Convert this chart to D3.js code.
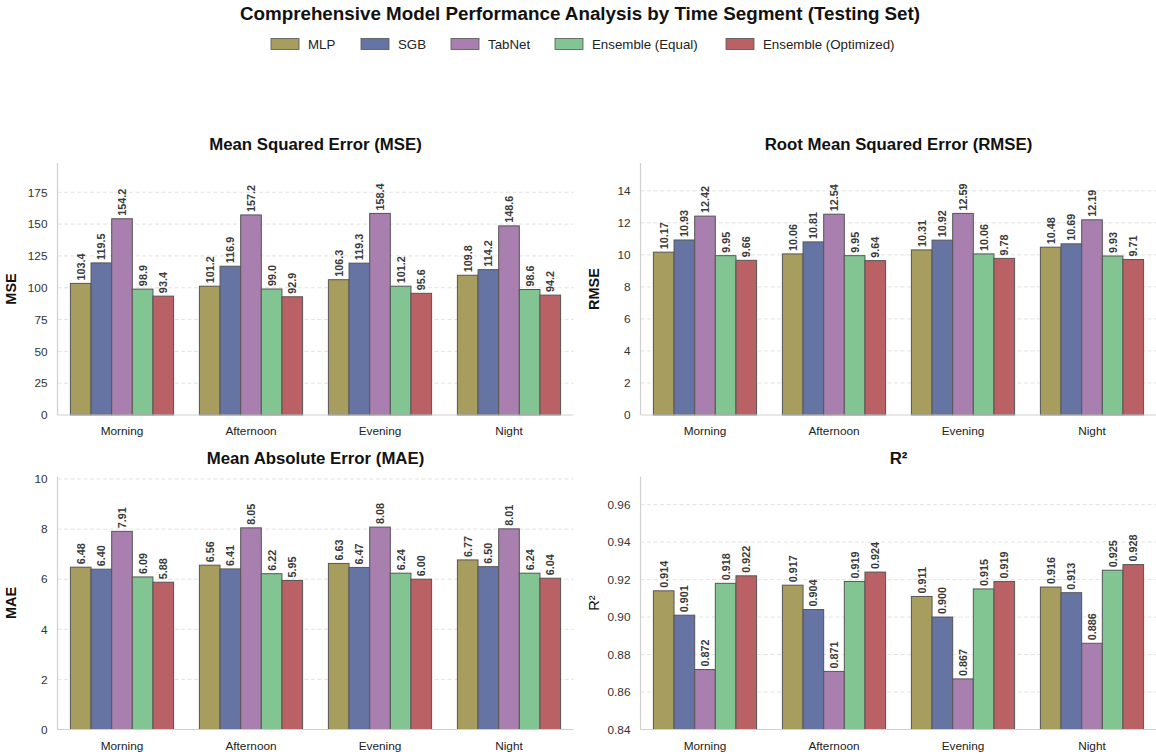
<!DOCTYPE html>
<html>
<head>
<meta charset="utf-8">
<script src="https://cdn.jsdelivr.net/npm/d3@7"></script>
<style>
  html, body { margin: 0; padding: 0; background: #fff; }
  svg { display: block; font-family: "Liberation Sans", Arial, Helvetica, sans-serif; }
</style>
</head>
<body>
<svg id="chart" width="1156" height="755"></svg>
<script>
// Time segments and models
const segments = ["Morning", "Afternoon", "Evening", "Night"];
const models = ["MLP", "SGB", "TabNet", "Ensemble (Equal)", "Ensemble (Optimized)"];
const modelColors = ["#a69d5e", "#6674a3", "#a87fae", "#83c493", "#b96164"];

// Metric values, one array per model (order follows segments)
const mseMLP = [103.4, 101.2, 106.3, 109.8];
const mseSGB = [119.5, 116.9, 119.3, 114.2];
const mseTabNet = [154.2, 157.2, 158.4, 148.6];
const mseEnsEqual = [98.9, 99.0, 101.2, 98.6];
const mseEnsOpt = [93.4, 92.9, 95.6, 94.2];

const rmseMLP = [10.17, 10.06, 10.31, 10.48];
const rmseSGB = [10.93, 10.81, 10.92, 10.69];
const rmseTabNet = [12.42, 12.54, 12.59, 12.19];
const rmseEnsEqual = [9.95, 9.95, 10.06, 9.93];
const rmseEnsOpt = [9.66, 9.64, 9.78, 9.71];

const maeMLP = [6.48, 6.56, 6.63, 6.77];
const maeSGB = [6.40, 6.41, 6.47, 6.50];
const maeTabNet = [7.91, 8.05, 8.08, 8.01];
const maeEnsEqual = [6.09, 6.22, 6.24, 6.24];
const maeEnsOpt = [5.88, 5.95, 6.00, 6.04];

const r2MLP = [0.914, 0.917, 0.911, 0.916];
const r2SGB = [0.901, 0.904, 0.900, 0.913];
const r2TabNet = [0.872, 0.871, 0.867, 0.886];
const r2EnsEqual = [0.918, 0.919, 0.915, 0.925];
const r2EnsOpt = [0.922, 0.924, 0.919, 0.928];

// Tick values per panel
const mseTicks = [0, 25, 50, 75, 100, 125, 150, 175];
const rmseTicks = [0, 2, 4, 6, 8, 10, 12, 14];
const maeTicks = [0, 2, 4, 6, 8, 10];
const r2Ticks = [0.84, 0.86, 0.88, 0.90, 0.92, 0.94, 0.96];

const svg = d3.select("#chart");

// Figure title
svg.append("text")
  .attr("x", 580).attr("y", 20)
  .attr("text-anchor", "middle")
  .attr("font-size", 18.8).attr("font-weight", "bold").attr("fill", "#111")
  .text("Comprehensive Model Performance Analysis by Time Segment (Testing Set)");

// Legend
const legendX = [271, 361, 451, 555, 726];
const legend = svg.append("g");
models.forEach((m, i) => {
  const g = legend.append("g").attr("transform", `translate(${legendX[i]},44)`);
  g.append("rect").attr("x", 0).attr("y", -5.5).attr("width", 28).attr("height", 11)
    .attr("fill", modelColors[i]).attr("stroke", "#555").attr("stroke-width", 0.8);
  g.append("text").attr("x", 37).attr("y", 0).attr("dy", "0.35em")
    .attr("font-size", 13.3).attr("fill", "#222").text(m);
});

function drawPanel(cfg) {
  const { left, top, width, height, title, ylabel, ylabelBold, series, domain, ticks, fmt, tickFmt } = cfg;
  const g = svg.append("g").attr("transform", `translate(${left},${top})`);

  const x0 = d3.scaleBand().domain(segments).range([0, width]).paddingInner(0.2).paddingOuter(0.1);
  const x1 = d3.scaleBand().domain(models).range([0, x0.bandwidth()]).padding(0);
  const y = d3.scaleLinear().domain(domain).range([height, 0]);

  // dashed horizontal grid
  g.append("g").selectAll("line").data(ticks.filter(t => t !== domain[0]))
    .join("line")
    .attr("x1", 0).attr("x2", width)
    .attr("y1", d => y(d)).attr("y2", d => y(d))
    .attr("stroke", "#dcdcdc").attr("stroke-width", 0.8).attr("stroke-dasharray", "4,2.5");

  // bars
  const groups = g.append("g").selectAll("g").data(segments).join("g")
    .attr("transform", d => `translate(${x0(d)},0)`);
  groups.each(function(seg, si) {
    const grp = d3.select(this);
    models.forEach((m, mi) => {
      const v = series[mi][si];
      const bx = x1(m);
      grp.append("rect")
        .attr("x", bx).attr("y", y(v))
        .attr("width", x1.bandwidth()).attr("height", y(domain[0]) - y(v))
        .attr("fill", modelColors[mi]).attr("stroke", "#555").attr("stroke-width", 1);
      const cx = bx + x1.bandwidth() / 2;
      const cy = y(v) - 3;
      grp.append("text")
        .attr("transform", `translate(${cx},${cy}) rotate(-90)`)
        .attr("text-anchor", "start").attr("dy", "0.36em")
        .attr("font-size", 10.8).attr("font-weight", "bold").attr("fill", "#3a3a3a")
        .text(fmt(v));
    });
  });

  // axes
  const yAxis = d3.axisLeft(y).tickValues(ticks).tickSize(0).tickPadding(10).tickFormat(tickFmt);
  const ya = g.append("g").call(yAxis);
  ya.select(".domain").remove();
  ya.selectAll("text").attr("font-size", 11.8).attr("fill", "#333")
    .style("font-family", "'Liberation Sans', Arial, sans-serif");

  const xAxis = d3.axisBottom(x0).tickSize(0).tickPadding(12);
  const xa = g.append("g").attr("transform", `translate(0,${height})`).call(xAxis);
  xa.select(".domain").remove();
  xa.selectAll("text").attr("font-size", 11.8).attr("fill", "#222")
    .style("font-family", "'Liberation Sans', Arial, sans-serif");

  // spines
  g.append("line").attr("x1", 0).attr("x2", 0).attr("y1", 0).attr("y2", height)
    .attr("stroke", "#cfcfcf").attr("stroke-width", 1.2);
  g.append("line").attr("x1", 0).attr("x2", width).attr("y1", height).attr("y2", height)
    .attr("stroke", "#cfcfcf").attr("stroke-width", 1.2);

  // title
  g.append("text").attr("x", width / 2).attr("y", -13)
    .attr("text-anchor", "middle").attr("font-size", 16.8).attr("font-weight", "bold").attr("fill", "#111")
    .text(title);

  // y label
  g.append("text")
    .attr("transform", `translate(${-42},${height / 2}) rotate(-90)`)
    .attr("text-anchor", "middle")
    .attr("font-size", 14.5).attr("font-weight", ylabelBold ? "bold" : "normal").attr("fill", "#111")
    .text(ylabel);
}

const f1 = d3.format(".1f"), f2 = d3.format(".2f"), f3 = d3.format(".3f");
const errMax = arrs => d3.max(arrs.flat()) * 1.25;

const mseSeries = [mseMLP, mseSGB, mseTabNet, mseEnsEqual, mseEnsOpt];
const rmseSeries = [rmseMLP, rmseSGB, rmseTabNet, rmseEnsEqual, rmseEnsOpt];
const maeSeries = [maeMLP, maeSGB, maeTabNet, maeEnsEqual, maeEnsOpt];
const r2Series = [r2MLP, r2SGB, r2TabNet, r2EnsEqual, r2EnsOpt];

drawPanel({ left: 57.5, top: 163, width: 516, height: 252, title: "Mean Squared Error (MSE)", ylabel: "MSE", ylabelBold: true,
  series: mseSeries, domain: [0, errMax(mseSeries)], ticks: mseTicks, fmt: f1, tickFmt: d3.format("d") });
drawPanel({ left: 640.5, top: 163, width: 516, height: 252, title: "Root Mean Squared Error (RMSE)", ylabel: "RMSE", ylabelBold: true,
  series: rmseSeries, domain: [0, errMax(rmseSeries)], ticks: rmseTicks, fmt: f2, tickFmt: d3.format("d") });
drawPanel({ left: 57.5, top: 476.5, width: 516, height: 253, title: "Mean Absolute Error (MAE)", ylabel: "MAE", ylabelBold: true,
  series: maeSeries, domain: [0, errMax(maeSeries)], ticks: maeTicks, fmt: f2, tickFmt: d3.format("d") });
drawPanel({ left: 640.5, top: 476.5, width: 516, height: 253, title: "R²", ylabel: "R²", ylabelBold: false,
  series: r2Series, domain: [0.84, 0.975], ticks: r2Ticks, fmt: f3, tickFmt: d3.format(".2f") });
</script>
</body>
</html>
